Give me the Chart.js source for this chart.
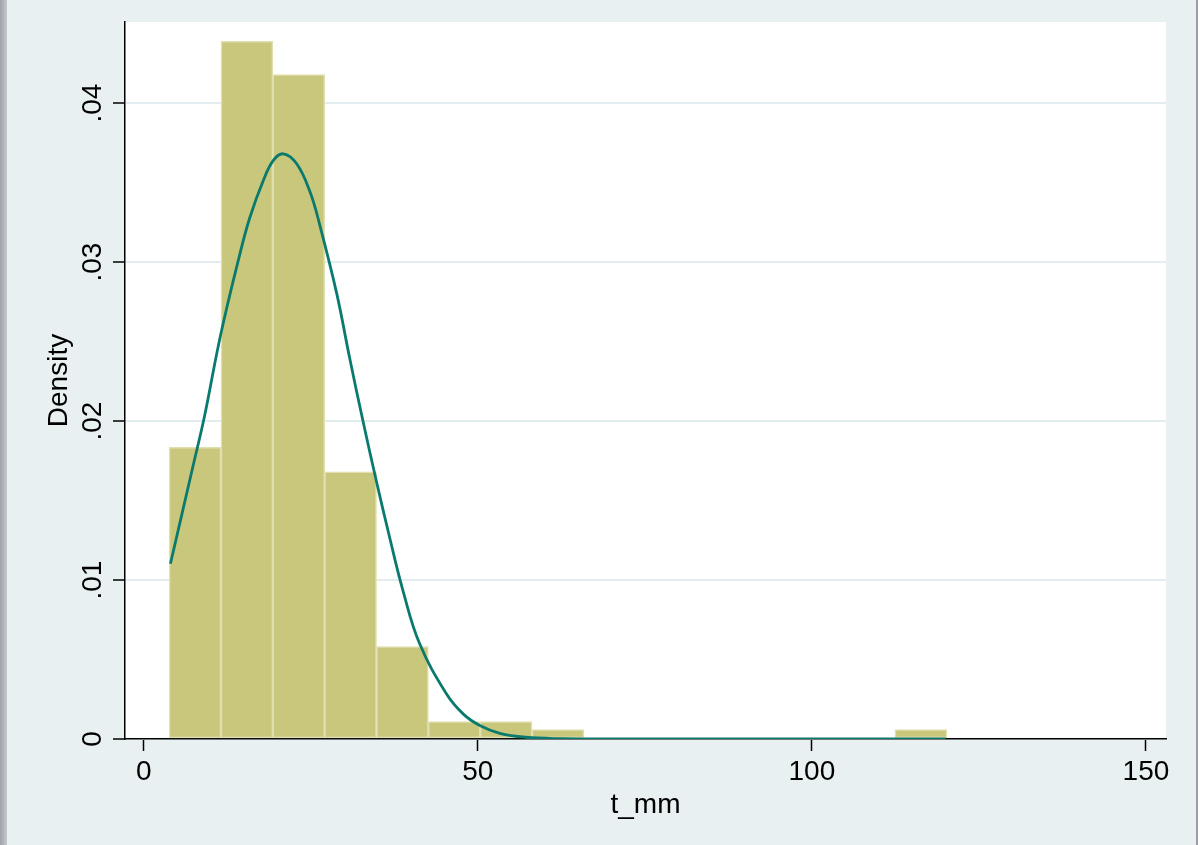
<!DOCTYPE html>
<html>
<head>
<meta charset="utf-8">
<script src="https://cdn.jsdelivr.net/npm/chart.js@4.4.1/dist/chart.umd.min.js"></script>
<style>
  html, body { margin: 0; padding: 0; background: #e8f0f1; }
  #wrap { position: relative; width: 1198px; height: 845px; }
</style>
</head>
<body>
<div id="wrap"><canvas id="chart" width="1198" height="845"></canvas></div>
<script>
// histogram bins (centre of each bin, density)
const binCenters = [7.68, 15.44, 23.20, 30.96, 38.72, 46.48, 54.24, 62.00, 116.32];
const binDensity = [0.01835, 0.04389, 0.04179, 0.01681, 0.00582, 0.00110, 0.00110, 0.00060, 0.00060];

// normal density overlay
const curveX = [4.0, 7.4, 9.1, 11.5, 14.4, 15.9, 17.9, 19.4, 20.9, 22.9, 24.9, 26.4,
                28.9, 30.8, 32.8, 34.8, 36.8, 38.8, 41.3, 45.3, 47.8, 50.3, 53.3, 57.2,
                62.3, 70, 80, 90, 100, 110, 120];
const curveY = [0.01102, 0.01720, 0.02030, 0.02540, 0.03052, 0.03282, 0.03513, 0.03640,
                0.03681, 0.03618, 0.03440, 0.03225, 0.02800, 0.02401, 0.02003, 0.01626,
                0.01269, 0.00934, 0.00599, 0.00284, 0.00158, 0.00085, 0.00036, 0.00011,
                0.00002, 0, 0, 0, 0, 0, 0];

const xTicks = [0, 50, 100, 150];
const xTickLabels = ['0', '50', '100', '150'];
const yTicks = [0, 0.01, 0.02, 0.03, 0.04];
const yTickLabels = ['0', '.01', '.02', '.03', '.04'];

const FONT = '28px "Liberation Sans", Arial, Helvetica, sans-serif';

// background: light outer region, window edges, white plot region
const backdrop = {
    id: 'backdrop',
    beforeDraw(chart) {
        const { ctx, chartArea: a, width, height } = chart;
        ctx.save();
        ctx.fillStyle = '#e8f0f1';
        ctx.fillRect(0, 0, width, height);
        const g = ctx.createLinearGradient(0, 0, 7, 0);
        g.addColorStop(0, '#9ea2a8');
        g.addColorStop(1, '#c6cace');
        ctx.fillStyle = g;
        ctx.fillRect(0, 0, 7, height);
        ctx.fillStyle = '#9a9ea4';
        ctx.fillRect(1196, 0, 2, height);
        ctx.fillStyle = '#ffffff';
        ctx.fillRect(a.left, a.top, a.right - a.left, a.bottom - a.top);
        ctx.restore();
    }
};

// tick labels and axis titles in Stata style (y labels rotated)
const labels = {
    id: 'labels',
    afterDraw(chart) {
        const { ctx, scales: { x, y }, chartArea: a } = chart;
        ctx.save();
        ctx.font = FONT;
        ctx.fillStyle = '#000';
        ctx.textAlign = 'center';
        ctx.textBaseline = 'alphabetic';
        xTicks.forEach((v, i) => {
            ctx.fillText(xTickLabels[i], x.getPixelForValue(v), 780);
        });
        yTicks.forEach((v, i) => {
            ctx.save();
            ctx.translate(101, y.getPixelForValue(v));
            ctx.rotate(-Math.PI / 2);
            ctx.fillText(yTickLabels[i], 0, 0);
            ctx.restore();
        });
        ctx.save();
        ctx.translate(67, (a.top + a.bottom) / 2);
        ctx.rotate(-Math.PI / 2);
        ctx.fillText('Density', 0, 0);
        ctx.restore();
        ctx.fillText('t_mm', (a.left + a.right) / 2, 813);
        ctx.restore();
    }
};

new Chart(document.getElementById('chart'), {
    data: {
        datasets: [
            {
                type: 'line',
                data: curveX.map((v, i) => ({ x: v, y: curveY[i] })),
                borderColor: '#0b7a6e',
                borderWidth: 2.8,
                pointRadius: 0,
                fill: false,
                tension: 0.4,
                order: 0
            },
            {
                type: 'bar',
                data: binCenters.map((v, i) => ({ x: v, y: binDensity[i] })),
                backgroundColor: '#c9c77b',
                borderColor: '#e0dfb0',
                borderWidth: 1.5,
                borderSkipped: false,
                barPercentage: 1,
                categoryPercentage: 1,
                order: 1
            }
        ]
    },
    options: {
        responsive: false,
        animation: false,
        layout: { padding: { top: 22, right: 32, left: 0, bottom: 0 } },
        plugins: { legend: { display: false }, tooltip: { enabled: false } },
        scales: {
            x: {
                type: 'linear',
                min: -2.8,
                max: 153,
                offset: false,
                afterBuildTicks: s => { s.ticks = xTicks.map(v => ({ value: v })); },
                afterFit: s => { s.height = 845 - 739; },
                ticks: { display: false },
                grid: { offset: false, drawOnChartArea: false, drawTicks: true, tickLength: 12, tickColor: '#000', tickWidth: 1.5 },
                border: { display: true, color: '#000', width: 1.5 }
            },
            y: {
                type: 'linear',
                min: 0,
                max: 0.0451,
                afterBuildTicks: s => { s.ticks = yTicks.map(v => ({ value: v })); },
                afterFit: s => { s.width = 125; },
                ticks: { display: false },
                grid: { color: '#e3edef', lineWidth: 2, drawTicks: true, tickLength: 12, tickColor: '#000', tickWidth: 1.5 },
                border: { display: true, color: '#000', width: 1.5 }
            }
        }
    },
    plugins: [backdrop, labels]
});
</script>
</body>
</html>
